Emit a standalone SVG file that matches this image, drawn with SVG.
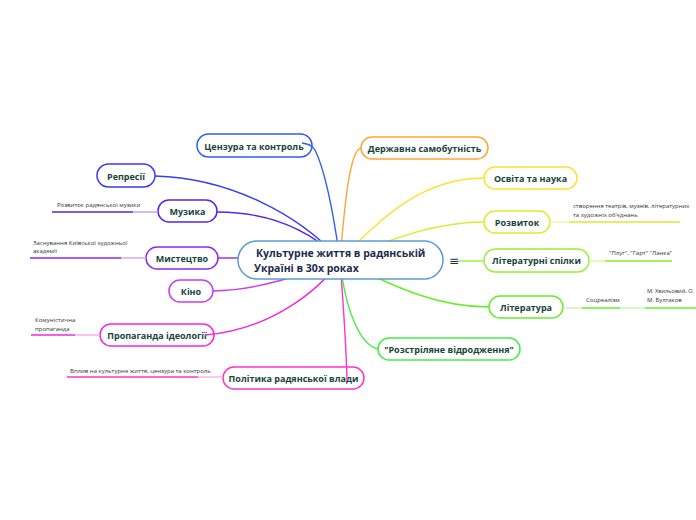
<svg xmlns="http://www.w3.org/2000/svg" width="696" height="520" viewBox="0 0 696 520">
<style>
.n{fill:#fff;stroke-width:1.5}
.t{font-family:"Open Sans",sans-serif;font-weight:bold;font-size:9px;fill:#17443a;text-anchor:middle;dominant-baseline:central}
.s{font-family:"Open Sans",sans-serif;font-size:6px;fill:#333}
.c{fill:none;stroke-width:1.4}
.u{fill:none;stroke-width:1.5}
</style>
<rect width="696" height="520" fill="#fff"/>
<g id="n-cenzura"><rect class="n" x="197" y="134" width="115" height="23" rx="11.5" stroke="#2f5cf5"/><text class="t" x="254" y="146">Цензура та контроль</text></g>
<g id="n-represii"><rect class="n" x="97" y="164" width="58" height="23" rx="11.5" stroke="#3a3af0"/><text class="t" x="126" y="176">Репресії</text></g>
<g id="n-muzyka"><rect class="n" x="158" y="200" width="59" height="22" rx="11" stroke="#5526e8"/><text class="t" x="187.5" y="211.5">Музика</text></g>
<g id="n-mystectvo"><rect class="n" x="146" y="247" width="72" height="22" rx="11" stroke="#8a2be8"/><text class="t" x="182" y="258.5">Мистецтво</text></g>
<g id="n-kino"><rect class="n" x="169" y="280" width="44" height="22" rx="11" stroke="#c83cf2"/><text class="t" x="191" y="291.5">Кіно</text></g>
<g id="n-propaganda"><rect class="n" x="100" y="324" width="114" height="22" rx="11" stroke="#f028e0"/><text class="t" x="157" y="335.5">Пропаганда ідеології</text></g>
<g id="n-polityka"><rect class="n" x="223" y="367" width="141" height="22" rx="11" stroke="#fa35c8"/><text class="t" x="293.5" y="378.5">Політика радянської влади</text></g>
<g id="n-derzhavna"><rect class="n" x="361" y="137" width="127" height="22" rx="11" stroke="#ffa532"/><text class="t" x="424.5" y="148.5">Державна самобутність</text></g>
<g id="n-osvita"><rect class="n" x="484" y="167" width="93" height="22" rx="11" stroke="#ffe030"/><text class="t" x="530.5" y="178.5">Освіта та наука</text></g>
<g id="n-rozvytok"><rect class="n" x="484" y="211" width="66" height="22" rx="11" stroke="#d9ee2a"/><text class="t" x="517" y="222.5">Розвиток</text></g>
<g id="n-spilky"><rect class="n" x="484" y="249" width="105" height="23" rx="11.5" stroke="#9ced3a"/><text class="t" x="536.5" y="260.5">Літературні спілки</text></g>
<g id="n-literatura"><rect class="n" x="489" y="296" width="74" height="22" rx="11" stroke="#66ee2a"/><text class="t" x="526" y="307.5">Література</text></g>
<g id="n-rozstriliane"><rect class="n" x="378" y="338" width="142" height="22" rx="11" stroke="#44ee44"/><text class="t" x="449" y="349.5">"Розстріляне відродження"</text></g>
<g id="connectors">
<path class="c" stroke="#2f5cf5" d="M302,143 C308,144 312,145 315,150 C325,170 333,210 340,260"/>
<path class="c" stroke="#3a3af0" d="M155,176 C230,178 300,215 340,260"/>
<path class="c" stroke="#5526e8" d="M217,212 C270,212 310,230 340,260"/>
<path class="c" stroke="#8a2be8" d="M218,258 L250,258"/>
<path class="c" stroke="#c83cf2" d="M213,291 C260,290 300,275 340,260"/>
<path class="c" stroke="#f028e0" d="M205,335 C270,330 320,290 340,260"/>
<path class="c" stroke="#fa35c8" d="M340,260 C343,300 346,340 347,380"/>
<path class="c" stroke="#ffa532" d="M340,260 C345,200 350,150 361,148"/>
<path class="c" stroke="#ffe030" d="M340,260 C380,220 420,178 484,178"/>
<path class="c" stroke="#d9ee2a" d="M340,260 C400,235 440,222 484,222"/>
<path class="c" stroke="#9ced3a" d="M458,261 L484,261"/>
<path class="c" stroke="#66ee2a" d="M340,260 C400,290 440,307 489,307"/>
<path class="c" stroke="#44ee44" d="M340,260 C345,310 360,345 378,349"/>
<path class="c" stroke="#b3a4f5" d="M133,212 L158,212"/>
<path class="u" stroke="#5526e8" d="M52,212 L133,212"/>
<path class="c" stroke="#d2a6f5" d="M121,258 L146,258"/>
<path class="u" stroke="#8a2be8" d="M30,258 L121,258"/>
<path class="c" stroke="#f7a6f0" d="M75,335 L100,335"/>
<path class="u" stroke="#f028e0" d="M31,335 L75,335"/>
<path class="c" stroke="#fcb0e4" d="M198,377 L223,377"/>
<path class="u" stroke="#fa35c8" d="M67,377 L198,377"/>
<path class="c" stroke="#eef6a8" d="M550,222 L569,222"/>
<path class="u" stroke="#d9ee2a" d="M569,222 L680,222"/>
<path class="c" stroke="#d3f5ac" d="M589,261 L605,261"/>
<path class="u" stroke="#8ee82a" d="M605,261 L672,261"/>
<path class="c" stroke="#c8f5ae" d="M563,308 L582,308"/>
<path class="u" stroke="#66ee2a" d="M582,308 L620,308"/>
<path class="c" stroke="#c8f5ae" d="M620,308 L645,308"/>
<path class="u" stroke="#66ee2a" d="M645,308 L696,308"/>
</g>
<g id="n-center"><rect x="238" y="241" width="205" height="38" rx="19" fill="#fff" stroke="#5b9bd5" stroke-width="1.5"/>
<text font-family="Open Sans,sans-serif" font-weight="bold" font-size="10.5px" fill="#1c2b4d"><tspan x="256" y="257">Культурне життя в радянській</tspan><tspan x="254" y="272">Україні в 30х роках</tspan></text>
<text x="449" y="265" font-family="DejaVu Sans,sans-serif" font-size="12px" fill="#1c2b4d">≡</text></g>
<g id="subs">
<text class="s" x="57" y="207">Розвиток радянської музики</text>
<text class="s" x="33" y="245">Заснування Київської художньої</text>
<text class="s" x="33" y="253">академії</text>
<text class="s" x="35" y="322">Комуністична</text>
<text class="s" x="35" y="331">пропаганда</text>
<text class="s" x="70" y="373">Вплив на культурне життя, цензура та контроль</text>
<text class="s" x="573" y="208">створення театрів, музеїв, літературних</text>
<text class="s" x="573" y="217">та художніх об'єднань</text>
<text class="s" x="609" y="255">"Плуг", "Гарт" "Ланка"</text>
<text class="s" x="586" y="302">Соцреалізм</text>
<text class="s" x="647" y="293" textLength="47" lengthAdjust="spacingAndGlyphs">М. Хвильовий, О.</text>
<text class="s" x="647" y="302">М. Булгаков</text>
</g>
</svg>
